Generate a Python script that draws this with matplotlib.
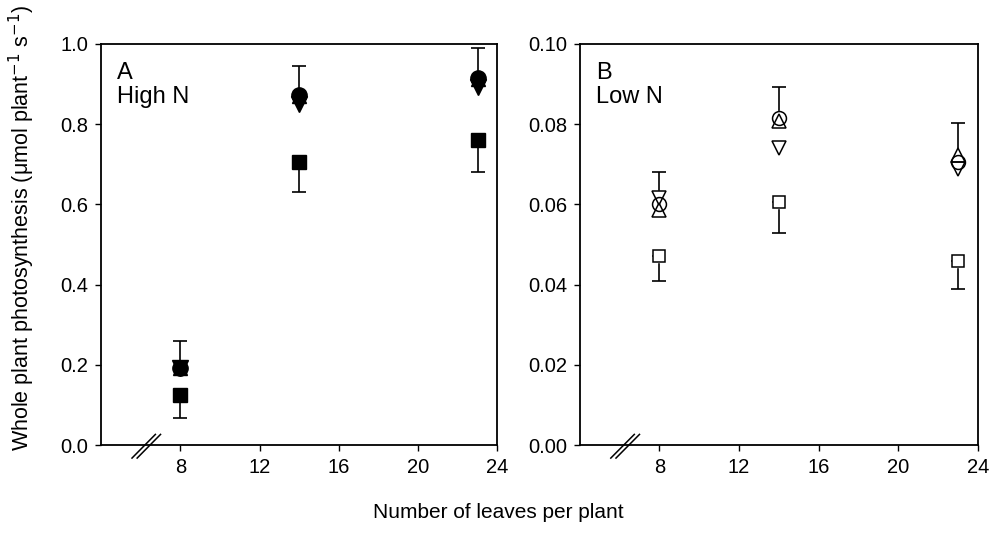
import numpy as np
import matplotlib
matplotlib.use('Agg')
from matplotlib import pyplot as plt

plt.rcParams['font.family'] = ['Liberation Sans', 'DejaVu Sans']

leaves = [8, 14, 23]

# panel A, high N (filled symbols)
hiN_circle = [0.192, 0.873, 0.915]
hiN_up = [0.192, 0.870, 0.912]
hiN_down = [0.192, 0.850, 0.892]
hiN_square = [0.125, 0.705, 0.760]
hiN_err_top = [0.068, 0.072, 0.075]
hiN_err_bot = [0.058, 0.075, 0.080]

# panel B, low N (open symbols)
loN_circle = [0.0601, 0.0815, 0.0705]
loN_up = [0.0585, 0.0808, 0.0722]
loN_down = [0.0616, 0.0740, 0.0688]
loN_square = [0.0472, 0.0606, 0.0459]
loN_err_top = [0.0079, 0.0078, 0.0098]
loN_err_bot = [0.0062, 0.0076, 0.0069]

xticks = [8, 12, 16, 20, 24]

fig = plt.figure(figsize=(9.91, 5.49), dpi=100)
axA = fig.add_axes([0.102, 0.189, 0.400, 0.731])
axB = fig.add_axes([0.585, 0.189, 0.402, 0.731])


def panel(ax, circ, up, down, sq, etop, ebot, filled, ylim, yticks, fmt, label):
    zero = [0] * len(leaves)
    ax.errorbar(leaves, circ, yerr=[zero, etop], fmt='none', ecolor='black',
                elinewidth=1.2, capsize=5, capthick=1.2, zorder=1)
    ax.errorbar(leaves, sq, yerr=[ebot, zero], fmt='none', ecolor='black',
                elinewidth=1.2, capsize=5, capthick=1.2, zorder=1)
    if filled:
        sizes = {'v': 12, '^': 10.5, 'o': 11, 's': 9.5}
    else:
        sizes = {'v': 9.5, '^': 9.5, 'o': 10, 's': 9}
    series = [(down, 'v'), (up, '^'), (circ, 'o'), (sq, 's')]
    if filled:
        for y, m in series:
            ax.plot(leaves, y, m, ms=sizes[m], mfc='black', mec='black',
                    mew=1.0, zorder=3)
    else:
        # white fill underneath so that error bars stop at the symbol edge
        for y, m in series:
            ax.plot(leaves, y, m, ms=sizes[m], mfc='white', mec='white',
                    mew=1.0, zorder=2)
        for y, m in series:
            ax.plot(leaves, y, m, ms=sizes[m], mfc='none', mec='black',
                    mew=1.1, zorder=3)

    ax.set_xlim(4, 24)
    ax.set_ylim(*ylim)
    ax.set_xticks(xticks)
    ax.set_yticks(yticks)
    ax.set_yticklabels([fmt % v for v in yticks])
    ax.tick_params(direction='out', length=4, width=1, labelsize=14.5, pad=5)
    for s in ax.spines.values():
        s.set_linewidth(1.3)
    ax.text(0.04, 0.955, label, transform=ax.transAxes, fontsize=17,
            va='top', ha='left', linespacing=1.1)

    # axis break marks
    for dx in (0.0, 0.013):
        ax.plot([0.078 + dx, 0.137 + dx], [-0.032, 0.027], color='black',
                lw=1.1, transform=ax.transAxes, clip_on=False, zorder=6)


panel(axA, hiN_circle, hiN_up, hiN_down, hiN_square, hiN_err_top, hiN_err_bot,
      True, (0, 1.0), np.arange(0, 1.01, 0.2), '%.1f', 'A\nHigh N')
panel(axB, loN_circle, loN_up, loN_down, loN_square, loN_err_top, loN_err_bot,
      False, (0, 0.1), np.arange(0, 0.101, 0.02), '%.2f', 'B\nLow N')

fig.text(0.022, 0.585, 'Whole plant photosynthesis (\u03bcmol plant$^{-1}$ s$^{-1}$)',
         rotation=90, va='center', ha='center', fontsize=15.5)
fig.text(0.503, 0.067, 'Number of leaves per plant', ha='center', va='center',
         fontsize=15)

fig.savefig('out.png', dpi=100)
